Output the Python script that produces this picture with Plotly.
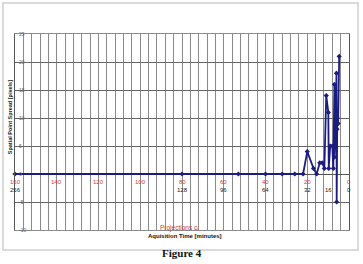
import plotly.graph_objects as go

# Data
time_min = [160, 80, 53, 40, 32, 26, 22, 20, 17, 15.5, 14, 12.8, 11.8, 10.9, 9.9, 9.7,
            9.0, 8.0, 7.5, 7.0, 7.0, 6.6, 6.0, 5.9, 5.7, 5.6, 5.2, 4.7]
spread_px = [0, 0, 0, 0, 0, 0, 0, 4, 1, 0, 2, 2, 1, 14, 11, 1,
             5, 5, 1, 16, 3, 6, 18, -5, 8, 10, 9, 21]
time_ticks = [160, 140, 120, 100, 80, 60, 40, 20, 0]
proj_ticks_x = [160, 80, 60, 40, 20, 10, 0]
proj_ticks_lbl = ["256", "128", "96", "64", "32", "16", "0"]
y_ticks = [-10, -5, 0, 5, 10, 15, 20, 25]

navy = "#1c1c80"
fig = go.Figure()
fig.add_trace(go.Scatter(
    x=time_min, y=spread_px, mode="lines+markers",
    line=dict(color=navy, width=1.8),
    marker=dict(color=navy, size=4, symbol="diamond"),
    cliponaxis=False, showlegend=False))

annots = []
for v in y_ticks:
    annots.append(dict(x=0.006, y=v, xref="paper", yref="y", text=str(v), showarrow=False,
                       xanchor="left", font=dict(size=5, color="#666", family="Liberation Sans")))
for t in time_ticks:
    annots.append(dict(x=t, y=-1.4, xref="x", yref="y", text=str(t), showarrow=False,
                       font=dict(size=6, color="#d03a3a", family="Liberation Sans")))
for t, l in zip(proj_ticks_x, proj_ticks_lbl):
    annots.append(dict(x=t, y=-2.9, xref="x", yref="y", text=l, showarrow=False,
                       font=dict(size=6, color="#222", family="Liberation Sans")))
annots += [
    dict(x=0.49, y=-0.018, xref="paper", yref="paper", text="Projections c<sub>i</sub>",
         showarrow=False, font=dict(size=6.5, color="#d03a3a", family="Liberation Sans")),
    dict(x=0.51, y=-0.056, xref="paper", yref="paper", text="<b>Aquisition Time [minutes]</b>",
         showarrow=False, font=dict(size=6, color="#111", family="Liberation Sans")),
    dict(x=-0.03, y=0.575, xref="paper", yref="paper", text="<b>Spatial Point Spread [pixels]</b>",
         showarrow=False, textangle=-90, font=dict(size=5.5, color="#222", family="Liberation Sans")),
    dict(x=0.5, y=-0.158, xref="paper", yref="paper", text="<b>Figure 4</b>",
         showarrow=False, font=dict(size=11, color="#111", family="Liberation Serif")),
]

fig.update_layout(
    width=363, height=264,
    margin=dict(l=15, r=14, t=34, b=34),
    paper_bgcolor="white", plot_bgcolor="white",
    xaxis=dict(range=[160, 0], dtick=4, tick0=0, showticklabels=False, ticks="",
               showgrid=True, gridcolor="#8a8a8a", gridwidth=1, zeroline=False,
               showline=True, linecolor="#8a8a8a", mirror=True),
    yaxis=dict(range=[-10, 25], tickvals=y_ticks, showticklabels=False, ticks="",
               showgrid=True, gridcolor="#666", gridwidth=1, zeroline=True,
               zerolinecolor="#555", zerolinewidth=1,
               showline=True, linecolor="#555", mirror=True),
    annotations=annots,
    shapes=[dict(type="rect", xref="paper", yref="paper", x0=-0.036, x1=1.027,
                 y0=-0.102, y1=1.158, line=dict(color="#cfcfcf", width=1.5), layer="below")],
)

fig.write_html("out.html")
